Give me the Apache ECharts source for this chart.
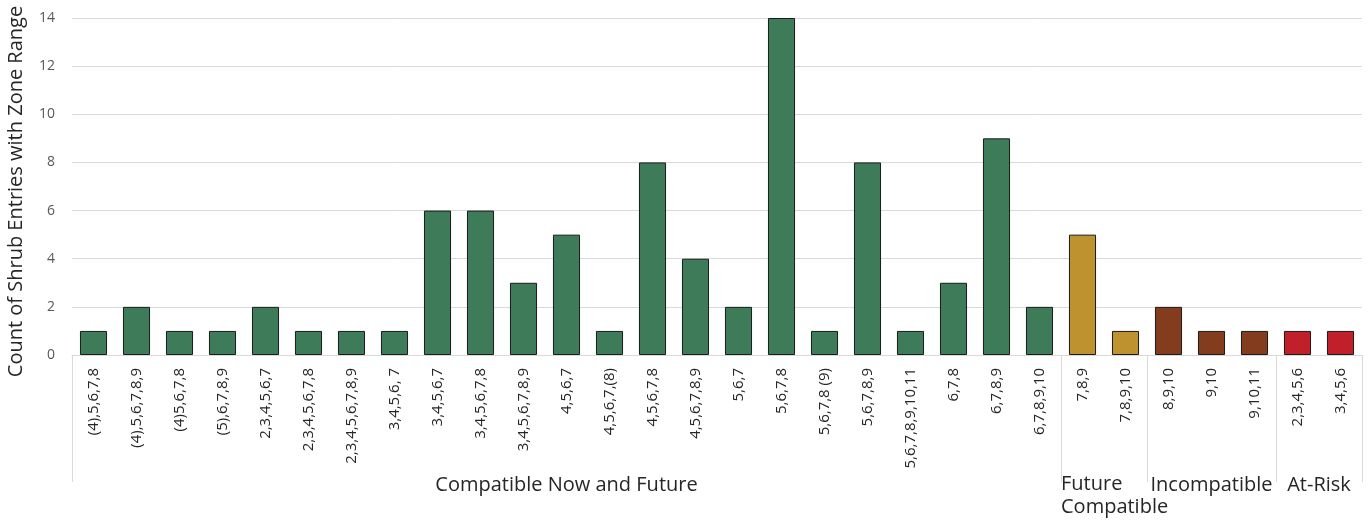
<!DOCTYPE html>
<html>
<head>
<meta charset="utf-8">
<script src="https://cdn.jsdelivr.net/npm/echarts@6/dist/echarts.min.js"></script>
<style>
html,body{margin:0;padding:0;background:#fff;}
#chart{width:1371px;height:520px;}
</style>
</head>
<body>
<div id="chart"></div>
<script>
const categories = [
  "(4),5,6,7,8", "(4),5,6,7,8,9", "(4)5,6,7,8", "(5),6,7,8,9", "2,3,4,5,6,7",
  "2,3,4,5,6,7,8", "2,3,4,5,6,7,8,9", "3,4,5,6, 7", "3,4,5,6,7", "3,4,5,6,7,8",
  "3,4,5,6,7,8,9", "4,5,6,7", "4,5,6,7,(8)", "4,5,6,7,8", "4,5,6,7,8,9",
  "5,6,7", "5,6,7,8", "5,6,7,8 (9)", "5,6,7,8,9", "5,6,7,8,9,10,11",
  "6,7,8", "6,7,8,9", "6,7,8,9,10",
  "7,8,9", "7,8,9,10",
  "8,9,10", "9,10", "9,10,11",
  "2,3,4,5,6", "3,4,5,6"
];
const counts = [1,2,1,1,2, 1,1,1,6,6, 3,5,1,8,4, 2,14,1,8,1, 3,9,2, 5,1, 2,1,1, 1,1];
const groupNames = ["Compatible Now and Future", "Future Compatible", "Incompatible", "At-Risk"];
const groupSizes = [23, 2, 3, 2];
const groupColors = ["#3E7C59", "#BE922F", "#843C1E", "#C1202A"];
const yTicks = [0, 2, 4, 6, 8, 10, 12, 14];

// group boundaries and centres (in category units)
const boundaries = [0];
groupSizes.forEach(s => boundaries.push(boundaries[boundaries.length - 1] + s));
const centers = groupSizes.map((s, i) => (boundaries[i] + boundaries[i + 1]) / 2);
const barColors = [];
groupSizes.forEach((s, i) => { for (let k = 0; k < s; k++) barColors.push(groupColors[i]); });

const FONT = "'Open Sans', 'Noto Sans', sans-serif";
const chart = echarts.init(document.getElementById('chart'), null, {renderer: 'canvas'});
chart.setOption({
  animation: false,
  backgroundColor: '#ffffff',
  grid: {left: 72, right: 9, top: 18, bottom: 165, containLabel: false, outerBoundsMode: 'none'},
  xAxis: [{
    type: 'category',
    data: categories,
    position: 'bottom',
    axisLine: {show: true, lineStyle: {color: '#D9D9D9', width: 1}},
    axisTick: {show: false},
    axisLabel: {interval: 0, rotate: 90, margin: 13, fontSize: 15, color: '#262626', fontFamily: FONT}
  }, {
    type: 'value',
    min: 0,
    max: boundaries[boundaries.length - 1],
    position: 'bottom',
    axisLine: {show: false},
    splitLine: {show: false},
    axisTick: {show: true, customValues: boundaries, length: 127, lineStyle: {color: '#D9D9D9', width: 1}},
    axisLabel: {
      show: true,
      customValues: centers,
      margin: 118,
      fontSize: 20,
      color: '#262626',
      fontFamily: FONT,
      lineHeight: 24,
      formatter: function (v) {
        const i = centers.indexOf(v);
        if (i < 0) return '';
        const name = groupNames[i];
        if (name === 'Future Compatible') return '{l|Future}\n{l|Compatible}';
        return name;
      },
      rich: {
        l: {width: 86, align: 'left', fontSize: 20, lineHeight: 23, color: '#262626', fontFamily: FONT}
      }
    }
  }],
  yAxis: {
    type: 'value',
    min: yTicks[0],
    max: yTicks[yTicks.length - 1],
    interval: 2,
    name: 'Count of Shrub Entries with Zone Range',
    nameLocation: 'middle',
    nameGap: 46,
    nameTextStyle: {fontSize: 20, color: '#262626', fontFamily: FONT, padding: [0, 10, 0, 0]},
    axisLine: {show: false},
    axisTick: {show: false},
    axisLabel: {margin: 17, fontSize: 14, color: '#595959', fontFamily: FONT},
    splitLine: {show: true, lineStyle: {color: '#D9D9D9', width: 1}}
  },
  series: [{
    type: 'bar',
    xAxisIndex: 0,
    barCategoryGap: '37%',
    data: counts.map((v, i) => ({value: v, itemStyle: {color: barColors[i]}})),
    itemStyle: {borderColor: '#1a1a1a', borderWidth: 1}
  }]
});
</script>
</body>
</html>
